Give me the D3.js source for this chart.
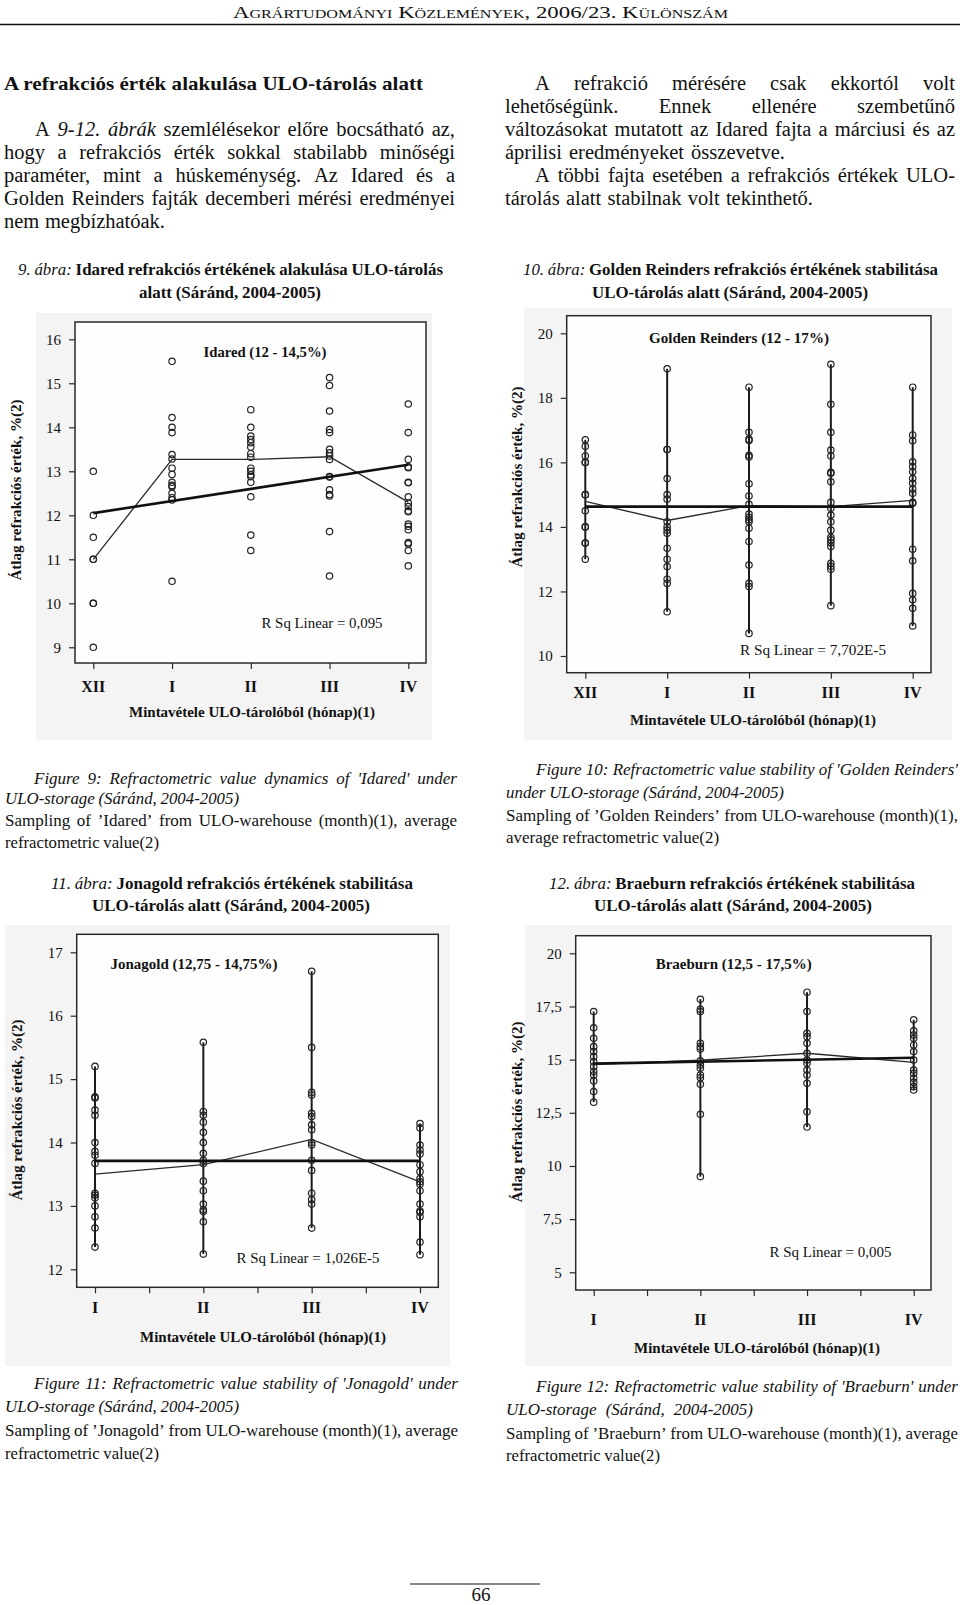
<!DOCTYPE html>
<html><head><meta charset="utf-8">
<script src="https://cdn.jsdelivr.net/npm/d3@7/dist/d3.min.js"></script>
<style>body{margin:0;background:#fff}svg{display:block}text{font-family:'Liberation Serif','Times New Roman',serif;fill:#111}</style>
</head><body>
<script>
// ---------- DATA ----------
const monthsDec = ["XII","I","II","III","IV"];
const monthsJan = ["I","II","III","IV"];

const idaredPoints = [
  [13, 12, 11.5, 11, 11, 10, 10, 9],
  [15.5, 14.22, 14.0, 13.88, 13.38, 13.28, 13.07, 12.93, 12.75, 12.68, 12.65, 12.5, 12.4, 12.35, 10.5],
  [14.4, 14.0, 13.8, 13.72, 13.65, 13.55, 13.4, 13.32, 13.07, 13.0, 12.92, 12.88, 12.75, 12.42, 11.55, 11.2],
  [15.13, 14.95, 14.37, 13.95, 13.88, 13.5, 13.42, 13.35, 13.27, 12.88, 12.87, 12.58, 12.47, 12.44, 11.63, 10.62],
  [14.53, 13.88, 13.27, 13.1, 13.08, 12.75, 12.74, 12.42, 12.28, 12.2, 12.1, 12.08, 11.8, 11.75, 11.67, 11.38, 11.35, 11.2, 10.85]
];
const idaredMeans = [11.0, 13.27, 13.27, 13.33, 12.3];
const idaredFit = [12.05, 13.15];
const idaredTicks = [9, 10, 11, 12, 13, 14, 15, 16];

const goldenPoints = [
  [16.7, 16.5, 16.2, 16.0, 16.0, 15.0, 15.0, 14.5, 14.0, 14.0, 13.5, 13.5, 13.0],
  [18.9, 16.4, 16.4, 15.5, 15.0, 14.86, 14.16, 14.0, 13.9, 13.8, 13.34, 13.0, 12.77, 12.38, 12.25, 11.37],
  [18.33, 16.93, 16.72, 16.68, 16.22, 16.17, 15.34, 14.96, 14.7, 14.4, 14.3, 14.22, 14.16, 13.96, 13.55, 12.82, 12.25, 12.15, 10.7],
  [19.04, 17.8, 16.93, 16.38, 16.2, 15.69, 15.66, 15.4, 14.76, 14.58, 14.37, 14.16, 13.9, 13.68, 13.6, 13.5, 13.39, 12.87, 12.78, 12.69, 11.56],
  [18.33, 16.85, 16.67, 16.02, 15.87, 15.71, 15.5, 15.35, 15.17, 15.04, 14.76, 14.73, 13.31, 12.95, 11.94, 11.74, 11.48, 10.93]
];
const goldenMeans = [14.79, 14.2, 14.66, 14.63, 14.82];
const goldenFit = [14.63, 14.63];
const goldenTicks = [10, 12, 14, 16, 18, 20];

const jonaPoints = [
  [15.2, 14.72, 14.7, 14.51, 14.43, 14.0, 13.86, 13.8, 13.67, 13.2, 13.17, 13.13, 13.0, 12.83, 12.65, 12.35],
  [15.58, 14.49, 14.43, 14.32, 14.16, 14.0, 13.83, 13.72, 13.67, 13.39, 13.24, 13.03, 12.94, 12.91, 12.75, 12.24],
  [16.7, 15.5, 14.79, 14.75, 14.46, 14.41, 14.28, 14.2, 14.0, 13.96, 13.72, 13.56, 13.2, 13.1, 13.03, 12.65],
  [14.3, 14.23, 13.96, 13.88, 13.82, 13.65, 13.54, 13.43, 13.38, 13.34, 13.24, 13.03, 12.92, 12.9, 12.83, 12.43, 12.23]
];
const jonaMeans = [13.5, 13.65, 14.05, 13.38];
const jonaFit = [13.71, 13.71];
const jonaTicks = [12, 13, 14, 15, 16, 17];

const braePoints = [
  [17.26, 16.5, 16.0, 15.61, 15.38, 15.14, 14.9, 14.67, 14.44, 14.28, 14.0, 13.5, 13.0],
  [17.84, 17.37, 17.26, 15.77, 15.61, 15.5, 14.94, 14.75, 14.6, 14.28, 14.15, 13.84, 12.43, 9.5],
  [18.17, 17.26, 16.24, 16.08, 15.77, 15.3, 14.98, 14.83, 14.51, 14.28, 13.89, 12.55, 11.83],
  [16.87, 16.35, 16.16, 16.0, 15.69, 15.38, 14.98, 14.51, 14.36, 14.12, 13.93, 13.73, 13.57]
];
const braeMeans = [14.78, 14.97, 15.3, 14.87];
const braeFit = [14.81, 15.09];
const braeTicks = [5, 7.5, 10, 12.5, 15, 17.5, 20];

const headerText = "Agrártudományi Közlemények, 2006/23. Különszám";
const headingText = "A refrakciós érték alakulása ULO-tárolás alatt";
const yAxisLabel = "Átlag refrakciós érték, %(2)";
const xAxisLabel = "Mintavétele ULO-tárolóból (hónap)(1)";

const paragraphLines = [
  {x0:35,x1:455,y:136,size:20.5,segs:[["A","n"],["9-12. ábrák","i"],["szemlélésekor előre bocsátható az,","n"]]},
  {x0:4,x1:455,y:159,size:20.5,segs:[["hogy a refrakciós érték sokkal stabilabb minőségi","n"]]},
  {x0:4,x1:455,y:182,size:20.5,segs:[["paraméter, mint a húskeménység. Az Idared és a","n"]]},
  {x0:4,x1:455,y:205,size:20.5,segs:[["Golden Reinders fajták decemberi mérési eredményei","n"]]},
  {x0:4,x1:165,y:228,size:20.5,segs:[["nem megbízhatóak.","n"]]},
  {x0:535,x1:955,y:90,size:20.5,segs:[["A refrakció mérésére csak ekkortól volt","n"]]},
  {x0:505,x1:955,y:113,size:20.5,segs:[["lehetőségünk. Ennek ellenére szembetűnő","n"]]},
  {x0:505,x1:955,y:136,size:20.5,segs:[["változásokat mutatott az Idared fajta a márciusi és az","n"]]},
  {x0:505,x1:785,y:159,size:20.5,segs:[["áprilisi eredményeket összevetve.","n"]]},
  {x0:535,x1:955,y:182,size:20.5,segs:[["A többi fajta esetében a refrakciós értékek ULO-","n"]]},
  {x0:505,x1:813,y:205,size:20.5,segs:[["tárolás alatt stabilnak volt tekinthető.","n"]]}
];

const captionLines = [
  {x0:18,x1:443,y:275,size:17,segs:[["9. ábra:","i"],["Idared refrakciós értékének alakulása ULO-tárolás","b"]]},
  {x0:139,x1:321,y:298,size:17,segs:[["alatt (Sáránd, 2004-2005)","b"]]},
  {x0:523,x1:938,y:275,size:17,segs:[["10. ábra:","i"],["Golden Reinders refrakciós értékének stabilitása","b"]]},
  {x0:592,x1:868,y:298,size:17,segs:[["ULO-tárolás alatt (Sáránd, 2004-2005)","b"]]},
  {x0:34,x1:457,y:784,size:17,segs:[["Figure 9: Refractometric value dynamics of 'Idared' under","i"]]},
  {x0:5,x1:239,y:804,size:17,segs:[["ULO-storage (Sáránd, 2004-2005)","i"]]},
  {x0:5,x1:457,y:826,size:17,segs:[["Sampling of ’Idared’ from ULO-warehouse (month)(1), average","n"]]},
  {x0:5,x1:159,y:848,size:17,segs:[["refractometric value(2)","n"]]},
  {x0:536,x1:958,y:775,size:17,segs:[["Figure 10: Refractometric value stability of 'Golden Reinders'","i"]]},
  {x0:506,x1:784,y:798,size:17,segs:[["under ULO-storage (Sáránd, 2004-2005)","i"]]},
  {x0:506,x1:958,y:821,size:17,segs:[["Sampling of ’Golden Reinders’ from ULO-warehouse (month)(1),","n"]]},
  {x0:506,x1:719,y:843,size:17,segs:[["average refractometric value(2)","n"]]},
  {x0:51,x1:413,y:889,size:17,segs:[["11. ábra:","i"],["Jonagold refrakciós értékének stabilitása","b"]]},
  {x0:92,x1:370,y:911,size:17,segs:[["ULO-tárolás alatt (Sáránd, 2004-2005)","b"]]},
  {x0:549,x1:915,y:889,size:17,segs:[["12. ábra:","i"],["Braeburn refrakciós értékének stabilitása","b"]]},
  {x0:594,x1:872,y:911,size:17,segs:[["ULO-tárolás alatt (Sáránd, 2004-2005)","b"]]},
  {x0:34,x1:458,y:1389,size:17,segs:[["Figure 11: Refractometric value stability of 'Jonagold' under","i"]]},
  {x0:5,x1:239,y:1412,size:17,segs:[["ULO-storage (Sáránd, 2004-2005)","i"]]},
  {x0:5,x1:458,y:1436,size:17,segs:[["Sampling of ’Jonagold’ from ULO-warehouse (month)(1), average","n"]]},
  {x0:5,x1:159,y:1459,size:17,segs:[["refractometric value(2)","n"]]},
  {x0:536,x1:958,y:1392,size:17,segs:[["Figure 12: Refractometric value stability of 'Braeburn' under","i"]]},
  {x0:506,x1:753,y:1415,size:17,segs:[["ULO-storage (Sáránd, 2004-2005)","i"]]},
  {x0:506,x1:958,y:1439,size:17,segs:[["Sampling of ’Braeburn’ from ULO-warehouse (month)(1), average","n"]]},
  {x0:506,x1:660,y:1461,size:17,segs:[["refractometric value(2)","n"]]}
];

// ---------- DRAW ----------
const svg = d3.select("body").append("svg").attr("width", 960).attr("height", 1605);

// header
svg.append("text").attr("x", 233).attr("y", 18).attr("font-size", 17)
  .style("font-variant", "small-caps")
  .attr("textLength", 495).attr("lengthAdjust", "spacingAndGlyphs").text(headerText);
svg.append("line").attr("x1", 0).attr("x2", 960).attr("y1", 24.5).attr("y2", 24.5)
  .attr("stroke", "#111").attr("stroke-width", 1.3);
svg.append("text").attr("x", 4).attr("y", 90).attr("font-size", 19).attr("font-weight", "bold")
  .attr("textLength", 419).attr("lengthAdjust", "spacingAndGlyphs").text(headingText);

function drawLine(g, L) {
  const words = [];
  L.segs.forEach(([t, st]) => t.split(" ").filter(Boolean).forEach(w => words.push({w, st})));
  const els = words.map(o => g.append("text").attr("y", L.y).attr("font-size", L.size)
    .attr("font-style", o.st.includes("i") ? "italic" : "normal")
    .attr("font-weight", o.st.includes("b") ? "bold" : "normal").text(o.w));
  const widths = els.map(e => e.node().getComputedTextLength());
  const total = d3.sum(widths);
  const n = words.length;
  const span = L.x1 - L.x0;
  const minGap = L.size * 0.22;
  let k = 1, gap = n > 1 ? (span - total) / (n - 1) : 0;
  if (n === 1) k = span / total;
  else if (gap < minGap) { gap = minGap; k = (span - minGap * (n - 1)) / total; }
  let x = L.x0;
  els.forEach((e, i) => {
    const w = widths[i] * k;
    e.attr("x", x);
    if (Math.abs(k - 1) > 0.002) e.attr("textLength", w).attr("lengthAdjust", "spacingAndGlyphs");
    x += w + gap;
  });
}
const textG = svg.append("g");
paragraphLines.forEach(L => drawLine(textG, L));
captionLines.forEach(L => drawLine(textG, L));

// page number
svg.append("line").attr("x1", 410).attr("x2", 540).attr("y1", 1584).attr("y2", 1584)
  .attr("stroke", "#111").attr("stroke-width", 1.2);
svg.append("text").attr("x", 481).attr("y", 1601).attr("text-anchor", "middle").attr("font-size", 19).text("66");

const fmtComma = d => String(d).replace(".", ",");

function drawChart(c) {
  const g = svg.append("g");
  g.append("rect").attr("x", c.box[0]).attr("y", c.box[1]).attr("width", c.box[2] - c.box[0])
    .attr("height", c.box[3] - c.box[1]).attr("fill", "#f4f4f4");
  const [fx0, fy0, fx1, fy1] = c.frame;
  g.append("rect").attr("x", fx0).attr("y", fy0).attr("width", fx1 - fx0).attr("height", fy1 - fy0)
    .attr("fill", "#fefefe").attr("stroke", "#2a2a2a").attr("stroke-width", 1.5);
  const x = d3.scaleLinear().domain([0, c.cats.length - 1]).range(c.xRange);
  const y = d3.scaleLinear().domain(c.yDomain).range(c.yRange);

  // y axis ticks
  const yAxis = d3.axisLeft(y).tickValues(c.ticks).tickSize(6).tickPadding(8).tickFormat(fmtComma);
  const ya = g.append("g").attr("transform", `translate(${fx0},0)`).call(yAxis);
  ya.select(".domain").remove();
  ya.selectAll(".tick line").attr("stroke", "#2a2a2a").attr("stroke-width", 1.2);
  ya.selectAll(".tick text").attr("font-size", 15).attr("fill", "#111")
    .style("font-family", "'Liberation Serif',serif");

  // x axis ticks
  const xTickVals = c.midTicks ? d3.range(0, c.cats.length - 0.99, 0.5) : d3.range(c.cats.length);
  const xAxis = d3.axisBottom(x).tickValues(xTickVals).tickSize(6).tickFormat("");
  const xa = g.append("g").attr("transform", `translate(0,${fy1})`).call(xAxis);
  xa.select(".domain").remove();
  xa.selectAll(".tick line").attr("stroke", "#2a2a2a").attr("stroke-width", 1.2);
  g.selectAll(null).data(c.cats).enter().append("text")
    .attr("x", (d, i) => x(i)).attr("y", c.catY).attr("text-anchor", "middle")
    .attr("font-size", 16).attr("font-weight", "bold").text(d => d);

  // axis titles
  g.append("text").attr("x", c.xTitle[0]).attr("y", c.xTitle[1]).attr("text-anchor", "middle")
    .attr("font-size", 15).attr("font-weight", "bold")
    .attr("textLength", 246).attr("lengthAdjust", "spacingAndGlyphs").text(xAxisLabel);
  g.append("text").attr("transform", `translate(${c.yTitle[0]},${c.yTitle[1]}) rotate(-90)`)
    .attr("text-anchor", "middle").attr("dy", "0.35em")
    .attr("font-size", 15).attr("font-weight", "bold")
    .attr("textLength", 181).attr("lengthAdjust", "spacingAndGlyphs").text(yAxisLabel);

  // range lines
  if (c.rangeLines) {
    g.selectAll(null).data(c.points).enter().append("line")
      .attr("x1", (d, i) => x(i)).attr("x2", (d, i) => x(i))
      .attr("y1", d => y(d3.min(d))).attr("y2", d => y(d3.max(d)))
      .attr("stroke", "#1a1a1a").attr("stroke-width", 2);
  }
  // points
  const flat = [];
  c.points.forEach((arr, i) => arr.forEach(v => flat.push({i, v})));
  g.selectAll(null).data(flat).enter().append("circle")
    .attr("cx", d => x(d.i)).attr("cy", d => y(d.v)).attr("r", 3.2)
    .attr("fill", "none").attr("stroke", "#222").attr("stroke-width", 1.2);
  // mean line
  g.append("path").datum(c.means)
    .attr("d", d3.line().x((d, i) => x(i)).y(d => y(d)))
    .attr("fill", "none").attr("stroke", "#2a2a2a").attr("stroke-width", 1.3);
  // fit line
  g.append("line").attr("x1", x(0)).attr("x2", x(c.cats.length - 1))
    .attr("y1", y(c.fit[0])).attr("y2", y(c.fit[1]))
    .attr("stroke", "#111").attr("stroke-width", 2.6);

  // labels
  g.append("text").attr("x", c.title[0]).attr("y", c.title[1]).attr("text-anchor", "middle")
    .attr("font-size", 15).attr("font-weight", "bold")
    .attr("textLength", c.title[3]).attr("lengthAdjust", "spacingAndGlyphs").text(c.title[2]);
  g.append("text").attr("x", c.rsq[0]).attr("y", c.rsq[1]).attr("text-anchor", "middle")
    .attr("font-size", 15)
    .attr("textLength", c.rsq[3]).attr("lengthAdjust", "spacingAndGlyphs").text(c.rsq[2]);
}

drawChart({
  box: [36, 313, 432, 740], frame: [75, 322, 426, 663],
  cats: monthsDec, xRange: [93.3, 408.3], yDomain: [9, 16], yRange: [647.3, 339.3],
  ticks: idaredTicks, midTicks: false, catY: 692, xTitle: [252, 717], yTitle: [16, 490],
  points: idaredPoints, means: idaredMeans, fit: idaredFit, rangeLines: false,
  title: [265, 357, "Idared (12 - 14,5%)", 123], rsq: [322, 628, "R Sq Linear = 0,095", 121]
});
drawChart({
  box: [524, 308, 952, 740], frame: [566.7, 315.7, 931, 672.7],
  cats: monthsDec, xRange: [585.3, 912.7], yDomain: [10, 20], yRange: [656, 333.3],
  ticks: goldenTicks, midTicks: false, catY: 698, xTitle: [753, 725], yTitle: [517, 477],
  points: goldenPoints, means: goldenMeans, fit: goldenFit, rangeLines: true,
  title: [739, 343, "Golden Reinders (12 - 17%)", 180], rsq: [813, 655, "R Sq Linear = 7,702E-5", 146]
});
drawChart({
  box: [5, 925, 450, 1366], frame: [76.7, 934.3, 438.3, 1287.3],
  cats: monthsJan, xRange: [95, 420], yDomain: [12, 17], yRange: [1269.3, 952.3],
  ticks: jonaTicks, midTicks: true, catY: 1313, xTitle: [263, 1342], yTitle: [16.7, 1110],
  points: jonaPoints, means: jonaMeans, fit: jonaFit, rangeLines: true,
  title: [194, 969, "Jonagold (12,75 - 14,75%)", 167], rsq: [308, 1263, "R Sq Linear = 1,026E-5", 143]
});
drawChart({
  box: [525, 925, 952, 1366], frame: [575.7, 935.7, 931, 1290],
  cats: monthsJan, xRange: [593.7, 913.7], yDomain: [5, 20], yRange: [1272.3, 953.3],
  ticks: braeTicks, midTicks: true, catY: 1325, xTitle: [757, 1353], yTitle: [516.7, 1112],
  points: braePoints, means: braeMeans, fit: braeFit, rangeLines: true,
  title: [733.7, 969, "Braeburn (12,5 - 17,5%)", 156], rsq: [830.5, 1257, "R Sq Linear = 0,005", 122]
});
</script>
</body></html>
